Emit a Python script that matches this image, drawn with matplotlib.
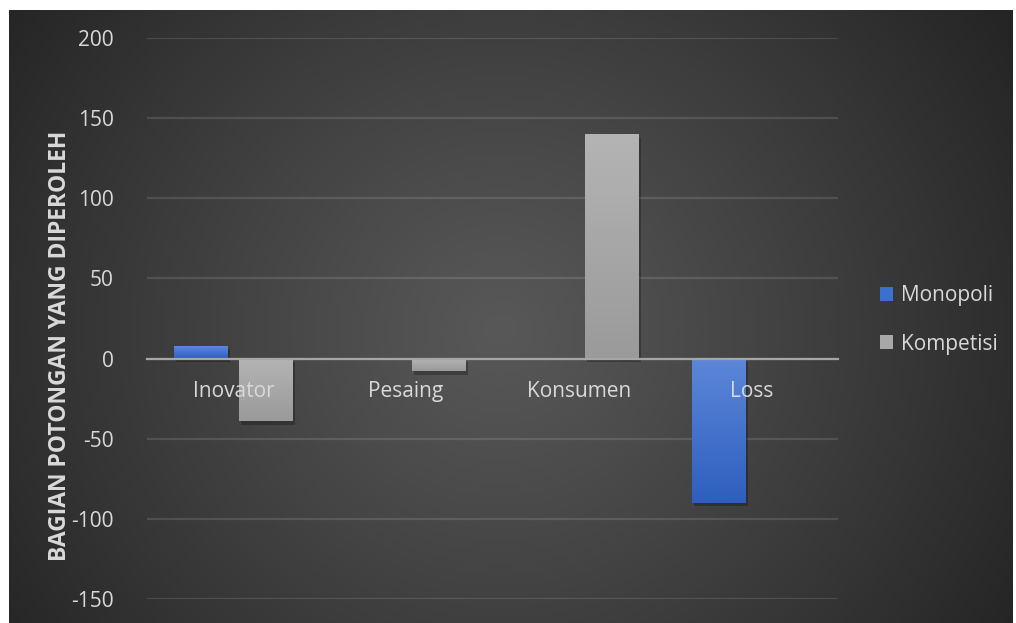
import numpy as np
import matplotlib
matplotlib.use("Agg")
import matplotlib.pyplot as plt
import matplotlib.patheffects as pe
from matplotlib.colors import LinearSegmentedColormap

categories = ["Inovator", "Pesaing", "Konsumen", "Loss"]
monopoli = [8, 0, 0, -90]
kompetisi = [-39, -8, 140, 0]
yticks = [-150, -100, -50, 0, 50, 100, 150, 200]
ylabel = "BAGIAN POTONGAN YANG DIPEROLEH"
series_names = ["Monopoli", "Kompetisi"]

plt.rcParams['font.family'] = ['Open Sans', 'DejaVu Sans']
plt.rcParams['axes.unicode_minus'] = False
W, H = 1016, 623
fig = plt.figure(figsize=(W / 100, H / 100), dpi=100, facecolor="white")

# background panel with radial gradient
bx0, bx1, by0, by1 = 9, 1013, 0, 613
bg = fig.add_axes([bx0 / W, by0 / H, (bx1 - bx0) / W, (by1 - by0) / H])
bg.set_axis_off()
yy, xx = np.mgrid[0:by1 - by0, 0:bx1 - bx0]
cx, cy = 500 - bx0, 330 - 10
r = np.sqrt(((xx - cx) / 1.0) ** 2 + ((yy - cy) / 0.95) ** 2)
t = np.clip(r / 600.0, 0, 1) ** 1.1
v = (0x58 + (0x25 - 0x58) * t) / 255.0
img = np.dstack([v, v, v])
bg.imshow(img, aspect="auto", extent=[0, 1, 0, 1], origin="upper")
bg.set_xlim(0, 1)
bg.set_ylim(0, 1)

# main axes
ax = fig.add_axes([147 / W, 1 - 599 / H, (838 - 147) / W, (599 - 38) / H])
ax.patch.set_alpha(0)
ax.set_ylim(-150, 200)
ax.set_xlim(-0.5, 3.5)
ax.set_yticks(yticks)
ax.yaxis.grid(True, color="#ffffff", alpha=0.12, linewidth=1.6)
ax.set_axisbelow(True)
for s in ["top", "right", "left"]:
    ax.spines[s].set_visible(False)
ax.spines["bottom"].set_position(("data", 0))
ax.spines["bottom"].set_color("#a6a6a6")
ax.spines["bottom"].set_linewidth(1.6)
ax.spines["bottom"].set_zorder(5)

x = np.arange(len(categories))
bw = 0.3125
off = 0.19
blue_cmap = LinearSegmentedColormap.from_list("b", ["#5d87d8", "#2d5fbf"])
gray_cmap = LinearSegmentedColormap.from_list("g", ["#b4b4b4", "#9a9a9a"])

shadow = [pe.SimplePatchShadow(offset=(1.5, -2.5), shadow_rgbFace="black", alpha=0.25), pe.Normal()]
b1 = ax.bar(x - off, monopoli, bw, color="#3b6fd0", label=series_names[0], zorder=3, path_effects=shadow)
b2 = ax.bar(x + off, kompetisi, bw, color="#a8a8a8", label=series_names[1], zorder=3, path_effects=shadow)

grad = np.linspace(0, 1, 256).reshape(-1, 1)
for bars, cmap in [(b1, blue_cmap), (b2, gray_cmap)]:
    for b in bars:
        h = b.get_height()
        if h == 0:
            continue
        y0, y1 = b.get_y(), b.get_y() + h
        lo, hi = min(y0, y1), max(y0, y1)
        im = ax.imshow(grad, cmap=cmap, aspect="auto", origin="upper",
                       extent=[b.get_x(), b.get_x() + b.get_width(), lo, hi], zorder=4)
        im.set_clip_path(b)
ax.set_xlim(-0.5, 3.5)
ax.set_ylim(-150, 200)

ax.set_xticks(x)
ax.set_xticklabels(categories)
ax.tick_params(axis="x", length=0, pad=16, labelsize=15, labelcolor="#d9d9d9")
ax.tick_params(axis="y", length=0, pad=24, labelsize=15, labelcolor="#d9d9d9")
ax.xaxis.set_zorder(6)

fig.text(60 / W, 1 - 346 / H, ylabel, rotation=90, ha="center", va="center",
         fontsize=16.5, fontweight="bold", color="#d9d9d9")

leg = ax.legend(loc="center left", bbox_to_anchor=(861 / W, 1 - 320 / H),
                bbox_transform=fig.transFigure, frameon=False, fontsize=15,
                handlelength=0.65, handleheight=0.65, handletextpad=0.35,
                labelspacing=1.3, labelcolor="#d9d9d9")
for hnd in leg.legend_handles:
    hnd.set_path_effects([])

fig.savefig("out.png", dpi=100, facecolor="white")
